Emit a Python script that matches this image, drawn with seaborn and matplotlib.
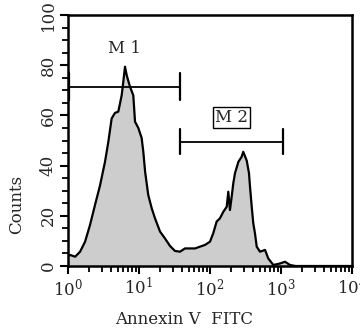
import numpy as np
import pandas as pd
import matplotlib
matplotlib.use("Agg")
import matplotlib.pyplot as plt
import seaborn as sns
from matplotlib.ticker import LogLocator, MultipleLocator, NullFormatter

fluor = [1.0, 1.07, 1.26, 1.48, 1.74, 2.04, 2.40, 2.82, 3.32, 3.70, 4.12, 4.59, 5.11,
         5.70, 6.01, 6.35, 6.71, 7.47, 8.31, 8.79, 9.78, 10.9, 11.5, 12.2, 13.5, 15.1,
         16.8, 19.8, 23.2, 27.3, 32.1, 37.8, 44.5, 52.3, 61.5, 72.3, 85.1, 100, 111,
         124, 138, 154, 172, 181, 191, 202, 213, 225, 251, 279, 294, 329, 354, 366,
         387, 407, 430, 455, 506, 596, 662, 780, 968, 1138, 1339, 1600, 10000]
counts = [4.0, 4.4, 3.7, 5.7, 9.7, 16.3, 24.3, 32, 41.5, 49.5, 58.8, 61, 61.5,
          68, 73.4, 79.4, 76, 71.4, 68, 57.5, 55, 51, 45.5, 37.5, 28.3, 23,
          19, 13.7, 11, 8, 6, 5.7, 7, 7, 7, 7.7, 8.4, 9.7, 13,
          17.7, 19, 21.6, 23.6, 29.6, 22.3, 27.6, 33, 37, 41.5, 43.5, 45.5, 42, 37, 31.6,
          23.6, 17, 13, 7.7, 5.7, 6.4, 3, 0.4, 1, 1.7, 0.4, 0, 0]

marker_names = ["M 1", "M 2"]
marker_start = [1.03, 38.0]
marker_end = [38.0, 1050]
marker_level = [71.5, 49.5]
marker_half = [5.5, 5.0]
label_pos = [(6.2, 86.5), (198, 59)]

x_ticks = [1, 10, 100, 1000, 10000]
x_tick_labels = [r"$10^0$", r"$10^1$", r"$10^2$", r"$10^3$", r"$10^4$"]
y_ticks = [0, 20, 40, 60, 80, 100]

sns.set_style("white")
plt.rcParams["font.family"] = ["DejaVu Serif"]
plt.rcParams["mathtext.fontset"] = "dejavuserif"

fig = plt.figure(figsize=(3.6, 3.32), dpi=100)
ax = fig.add_axes([68 / 360, 66 / 332, 284 / 360, 251 / 332])

df = pd.DataFrame({"x": fluor, "y": counts})
ax.fill_between(df["x"], df["y"], 0, color="#cdcdcd", linewidth=0, zorder=1)
sns.lineplot(data=df, x="x", y="y", ax=ax, color="black", linewidth=1.6, zorder=2)

for name, s, e, lv, h, (lx, ly) in zip(marker_names, marker_start, marker_end,
                                        marker_level, marker_half, label_pos):
    ax.plot([s, e], [lv, lv], color="black", lw=1.3)
    ax.plot([s, s], [lv - h, lv + h], color="black", lw=1.6)
    ax.plot([e, e], [lv - h, lv + h], color="black", lw=1.6)
    if name == "M 2":
        ax.text(lx, ly, name, ha="center", va="center", fontsize=12,
                bbox=dict(boxstyle="square,pad=0.12", fc="white", ec="black", lw=1))
    else:
        ax.text(lx, ly, name, ha="center", va="center", fontsize=12)

ax.set_xscale("log")
ax.set_xlim(1, 10000)
ax.set_ylim(0, 100)
ax.set_xticks(x_ticks)
ax.set_xticklabels(x_tick_labels, fontsize=12)
ax.xaxis.set_minor_locator(LogLocator(base=10, subs=np.arange(2, 10)))
ax.xaxis.set_minor_formatter(NullFormatter())
ax.set_yticks(y_ticks)
ax.set_yticklabels([str(v) for v in y_ticks], fontsize=12, rotation=90, va="center")
ax.yaxis.set_minor_locator(MultipleLocator(5))

ax.tick_params(axis="both", which="major", direction="out", length=6, width=1.5,
               color="black", pad=2, bottom=True, left=True)
ax.tick_params(axis="both", which="minor", direction="out", length=4, width=1.3,
               color="black", bottom=True, left=True)

for sp in ax.spines.values():
    sp.set_visible(True)
    sp.set_color("black")
    sp.set_linewidth(1.8)

ax.set_xlabel("Annexin V  FITC", fontsize=12)
ax.set_ylabel("Counts", fontsize=12)
ax.xaxis.set_label_coords(0.41, -0.18)
ax.yaxis.set_label_coords(-0.15, 0.245)

fig.savefig("out.png", dpi=100)
